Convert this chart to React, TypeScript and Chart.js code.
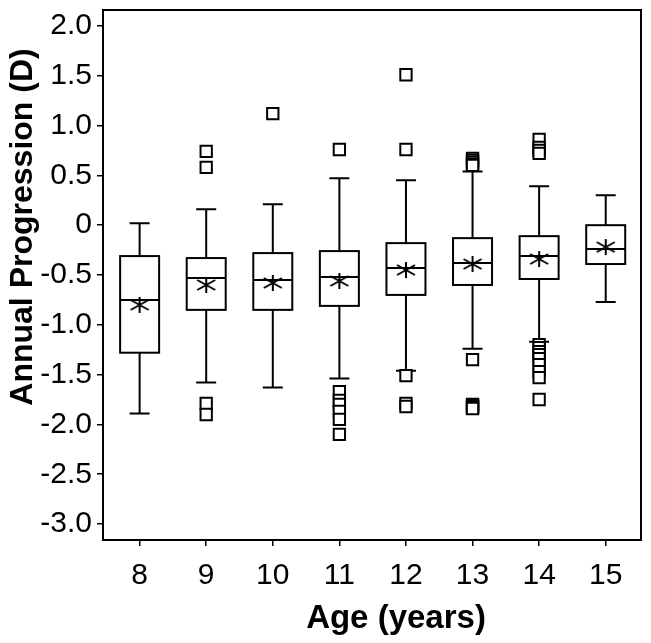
import React, { useEffect, useRef } from "react";
import { Chart, registerables } from "chart.js";

Chart.register(...registerables);

// ---- Data ----
const AGES = [8, 9, 10, 11, 12, 13, 14, 15];
const X_TICK_LABELS = ["8", "9", "10", "11", "12", "13", "14", "15"];
const Y_TICKS = [2.0, 1.5, 1.0, 0.5, 0, -0.5, -1.0, -1.5, -2.0, -2.5, -3.0];
const Y_TICK_LABELS = ["2.0", "1.5", "1.0", "0.5", "0", "-0.5", "-1.0", "-1.5", "-2.0", "-2.5", "-3.0"];
const X_TITLE = "Age (years)";
const Y_TITLE = "Annual Progression (D)";

const WHISKER_LOW = [-1.89, -1.58, -1.63, -1.54, -1.46, -1.24, -1.17, -0.77];
const Q1 = [-1.28, -0.85, -0.85, -0.81, -0.7, -0.6, -0.54, -0.39];
const MEDIAN = [-0.75, -0.53, -0.55, -0.52, -0.43, -0.38, -0.31, -0.24];
const Q3 = [-0.31, -0.33, -0.28, -0.26, -0.18, -0.13, -0.11, 0.0];
const WHISKER_HIGH = [0.02, 0.16, 0.21, 0.47, 0.45, 0.54, 0.39, 0.3];
const MEAN = [-0.8, -0.6, -0.58, -0.56, -0.45, -0.39, -0.34, -0.22];

const OUT_8: number[] = [];
const OUT_9 = [0.74, 0.58, -1.79, -1.9];
const OUT_10 = [1.12];
const OUT_11 = [0.76, -1.67, -1.76, -1.8, -1.87, -1.95, -2.1];
const OUT_12 = [1.51, 0.76, -1.51, -1.79, -1.82];
const OUT_13 = [0.67, 0.65, 0.63, 0.61, 0.6, -1.35, -1.8, -1.81, -1.82, -1.83, -1.84];
const OUT_14 = [0.86, 0.78, 0.75, 0.72, -1.2, -1.23, -1.27, -1.3, -1.34, -1.4, -1.47, -1.53, -1.75];
const OUT_15: number[] = [];
const OUTLIERS = [OUT_8, OUT_9, OUT_10, OUT_11, OUT_12, OUT_13, OUT_14, OUT_15];

const X_MIN = 7.45;
const X_MAX = 15.53;
const Y_MIN = -3.16;
const Y_MAX = 2.16;

const FONT = "'Liberation Sans', Arial, Helvetica, sans-serif";
const BOX_HALF = 19.5;
const CAP_HALF = 10;

function makeAsterisk(): HTMLCanvasElement {
  const c = document.createElement("canvas");
  c.width = 22;
  c.height = 20;
  const ctx = c.getContext("2d")!;
  ctx.strokeStyle = "#000";
  ctx.lineWidth = 2;
  const cx = 11;
  const cy = 10;
  ctx.beginPath();
  ctx.moveTo(cx, cy - 8);
  ctx.lineTo(cx, cy + 8);
  ctx.moveTo(cx - 9, cy - 5);
  ctx.lineTo(cx + 9, cy + 5);
  ctx.moveTo(cx - 9, cy + 5);
  ctx.lineTo(cx + 9, cy - 5);
  ctx.stroke();
  return c;
}

const boxPlugin = {
  id: "boxplot",
  beforeDatasetsDraw(chart: any) {
    const { ctx } = chart;
    const x = chart.scales.x;
    const y = chart.scales.y;
    ctx.save();
    ctx.strokeStyle = "#000";
    ctx.lineWidth = 2;
    AGES.forEach((age, i) => {
      const cx = x.getPixelForValue(age);
      const yLo = y.getPixelForValue(WHISKER_LOW[i]);
      const yQ1 = y.getPixelForValue(Q1[i]);
      const yMed = y.getPixelForValue(MEDIAN[i]);
      const yQ3 = y.getPixelForValue(Q3[i]);
      const yHi = y.getPixelForValue(WHISKER_HIGH[i]);
      ctx.beginPath();
      ctx.moveTo(cx, yHi);
      ctx.lineTo(cx, yQ3);
      ctx.moveTo(cx, yQ1);
      ctx.lineTo(cx, yLo);
      ctx.moveTo(cx - CAP_HALF, yHi);
      ctx.lineTo(cx + CAP_HALF, yHi);
      ctx.moveTo(cx - CAP_HALF, yLo);
      ctx.lineTo(cx + CAP_HALF, yLo);
      ctx.stroke();
      ctx.fillStyle = "#fff";
      ctx.fillRect(cx - BOX_HALF, yQ3, BOX_HALF * 2, yQ1 - yQ3);
      ctx.strokeRect(cx - BOX_HALF, yQ3, BOX_HALF * 2, yQ1 - yQ3);
      ctx.beginPath();
      ctx.moveTo(cx - BOX_HALF, yMed);
      ctx.lineTo(cx + BOX_HALF, yMed);
      ctx.stroke();
    });
    ctx.restore();
  },
  afterDraw(chart: any) {
    const { ctx, chartArea } = chart;
    ctx.save();
    ctx.strokeStyle = "#000";
    ctx.lineWidth = 2;
    ctx.strokeRect(chartArea.left, chartArea.top, chartArea.right - chartArea.left, chartArea.bottom - chartArea.top);
    // axis titles
    ctx.fillStyle = "#000";
    ctx.textAlign = "center";
    ctx.textBaseline = "middle";
    ctx.font = `bold 33px ${FONT}`;
    ctx.fillText(X_TITLE, 396, 619);
    ctx.translate(23, 227);
    ctx.rotate(-Math.PI / 2);
    ctx.font = `bold 32px ${FONT}`;
    ctx.fillText(Y_TITLE, 0, 0);
    ctx.restore();
  },
};

function zeroPadding(scale: any) {
  scale.paddingTop = 0;
  scale.paddingBottom = 0;
  scale.paddingLeft = 0;
  scale.paddingRight = 0;
}

export default function App() {
  const ref = useRef<HTMLCanvasElement>(null);
  useEffect(() => {
    if (!ref.current) return;
    const outlierData: { x: number; y: number }[] = [];
    AGES.forEach((age, i) => OUTLIERS[i].forEach((v) => outlierData.push({ x: age, y: v })));
    const meanData = AGES.map((age, i) => ({ x: age, y: MEAN[i] }));
    const asterisk = makeAsterisk();

    const chart = new Chart(ref.current, {
      type: "scatter",
      data: {
        datasets: [
          {
            label: "Outliers",
            data: outlierData,
            pointStyle: "rect",
            pointRadius: 8,
            pointBackgroundColor: "#fff",
            pointBorderColor: "#000",
            pointBorderWidth: 2,
          },
          {
            label: "Mean",
            data: meanData,
            pointStyle: asterisk as any,
            pointRadius: 8,
          },
        ],
      },
      plugins: [boxPlugin],
      options: {
        animation: false,
        responsive: false,
        devicePixelRatio: 1,
        layout: { padding: { left: 0, top: 7, right: 8, bottom: 0 } },
        plugins: { legend: { display: false }, tooltip: { enabled: false } },
        scales: {
          x: {
            type: "linear",
            min: X_MIN,
            max: X_MAX,
            afterBuildTicks: (scale: any) => {
              scale.ticks = AGES.map((v) => ({ value: v }));
            },
            afterFit: (scale: any) => {
              scale.height = 103;
              zeroPadding(scale);
            },
            border: { display: false },
            grid: { display: true, drawOnChartArea: false, drawTicks: true, tickLength: 6, color: "#000", lineWidth: 1.5 },
            ticks: {
              color: "#000",
              padding: 12,
              maxRotation: 0,
              autoSkip: false,
              font: { family: FONT, size: 30 },
              callback: (v: any) => {
                const idx = AGES.indexOf(Number(v));
                return idx >= 0 ? X_TICK_LABELS[idx] : "";
              },
            },
            title: { display: false },
          },
          y: {
            type: "linear",
            min: Y_MIN,
            max: Y_MAX,
            afterBuildTicks: (scale: any) => {
              scale.ticks = Y_TICKS.map((v) => ({ value: v }));
            },
            afterFit: (scale: any) => {
              scale.width = 103;
              zeroPadding(scale);
            },
            border: { display: false },
            grid: { display: true, drawOnChartArea: false, drawTicks: true, tickLength: 6, color: "#000", lineWidth: 1.5 },
            ticks: {
              color: "#000",
              padding: 5,
              autoSkip: false,
              font: { family: FONT, size: 30 },
              callback: (v: any) => {
                const idx = Y_TICKS.findIndex((t) => Math.abs(t - Number(v)) < 1e-6);
                return idx >= 0 ? Y_TICK_LABELS[idx] : "";
              },
            },
            title: { display: false },
          },
        },
      },
    });
    return () => chart.destroy();
  }, []);

  return (
    <div style={{ position: "absolute", left: 0, top: 0, width: 651, height: 643, background: "#fff" }}>
      <canvas ref={ref} width={651} height={643} style={{ width: 651, height: 643, display: "block" }} />
    </div>
  );
}
